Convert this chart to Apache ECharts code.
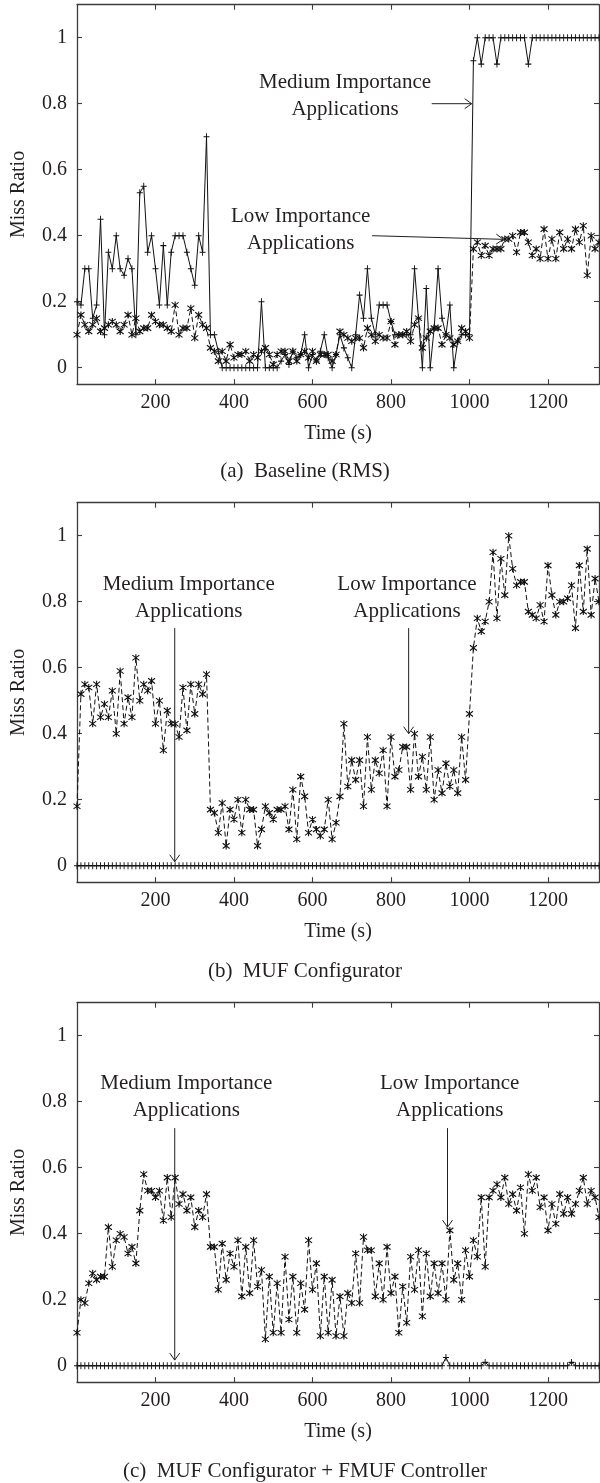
<!DOCTYPE html>
<html><head><meta charset="utf-8">
<script src="https://cdn.jsdelivr.net/npm/echarts@6/dist/echarts.min.js"></script>
<style>html,body{margin:0;padding:0;background:#fff}#c{width:600px;height:1483px}</style>
</head><body><div id="c"></div>
<script>
// ---------- data ----------
const TIME = [0,10,20,30,40,50,60,70,80,90,100,110,120,130,140,150,160,170,180,190,200,210,220,230,240,250,260,270,280,290,300,310,320,330,340,350,360,370,380,390,400,410,420,430,440,450,460,470,480,490,500,510,520,530,540,550,560,570,580,590,600,610,620,630,640,650,660,670,680,690,700,710,720,730,740,750,760,770,780,790,800,810,820,830,840,850,860,870,880,890,900,910,920,930,940,950,960,970,980,990,1000,1010,1020,1030,1040,1050,1060,1070,1080,1090,1100,1110,1120,1130,1140,1150,1160,1170,1180,1190,1200,1210,1220,1230,1240,1250,1260,1270,1280,1290,1300,1310,1320,1330];

// (a) Baseline (RMS)
const A_MEDIUM = [
0.2,0.19,0.3,0.3,0.15,0.19,0.45,0.1,0.35,0.3,
0.4,0.3,0.28,0.33,0.3,0.1,0.53,0.55,0.35,0.4,
0.3,0.19,0.37,0.19,0.35,0.4,0.4,0.4,0.35,0.3,
0.25,0.4,0.35,0.7,0.1,0.1,0.05,0,0,0,
0,0,0,0,0,0,0,0.2,0,0,
0,0,0.02,0.04,0.01,0.05,0.03,0.04,0.1,0,
0.04,0.02,0.05,0.1,0.03,0,0.04,0.1,0.06,0.03,
0,0.1,0.22,0.15,0.3,0.15,0.1,0.19,0.19,0.19,
0.14,0.1,0.1,0.1,0.1,0.1,0.3,0.15,0,0.24,
0,0.12,0.3,0.15,0.1,0.19,0,0.08,0.1,0.1,
0.1,0.93,1,0.92,1,1,1,0.92,1,1,
1,1,1,1,1,0.92,1,1,1,1,
1,1,1,1,1,1,1,1,1,1,
1,1,1,1];
const A_LOW = [
0.1,0.16,0.13,0.11,0.13,0.15,0.11,0.12,0.13,0.14,
0.13,0.11,0.13,0.16,0.1,0.15,0.11,0.12,0.12,0.16,
0.14,0.13,0.13,0.12,0.11,0.19,0.1,0.12,0.12,0.18,
0.09,0.16,0.13,0.12,0.06,0.05,0.02,0.05,0.02,0.07,
0.03,0.04,0.04,0.05,0.02,0.04,0.03,0.05,0.06,0.04,
0.01,0.04,0.05,0.05,0.02,0.05,0.02,0.04,0.05,0.03,
0.05,0.02,0.04,0.04,0.04,0.02,0.04,0.11,0.1,0.09,
0.08,0.09,0.09,0.06,0.12,0.1,0.08,0.1,0.09,0.09,
0.14,0.07,0.1,0.1,0.11,0.08,0.13,0.15,0.06,0.09,
0.11,0.12,0.12,0.07,0.1,0.09,0.07,0.08,0.12,0.11,
0.09,0.36,0.38,0.34,0.37,0.34,0.36,0.36,0.36,0.39,
0.39,0.4,0.35,0.41,0.41,0.38,0.34,0.36,0.33,0.42,
0.33,0.39,0.33,0.41,0.36,0.39,0.36,0.42,0.38,0.43,
0.28,0.4,0.36,0.38];

// (b) MUF Configurator
const B_MEDIUM = [
0,0,0,0,0,0,0,0,0,0, 0,0,0,0,0,0,0,0,0,0, 0,0,0,0,0,0,0,0,0,0,
0,0,0,0,0,0,0,0,0,0, 0,0,0,0,0,0,0,0,0,0, 0,0,0,0,0,0,0,0,0,0,
0,0,0,0,0,0,0,0,0,0, 0,0,0,0,0,0,0,0,0,0, 0,0,0,0,0,0,0,0,0,0,
0,0,0,0,0,0,0,0,0,0, 0,0,0,0,0,0,0,0,0,0, 0,0,0,0,0,0,0,0,0,0,
0,0,0,0,0,0,0,0,0,0, 0,0,0,0];
const B_LOW = [
0.18,0.52,0.55,0.54,0.43,0.55,0.45,0.49,0.45,0.53,
0.4,0.59,0.43,0.51,0.45,0.63,0.5,0.55,0.53,0.56,
0.43,0.5,0.35,0.47,0.43,0.43,0.39,0.54,0.41,0.55,
0.46,0.55,0.52,0.58,0.17,0.16,0.1,0.19,0.06,0.17,
0.14,0.2,0.1,0.2,0.17,0.17,0.06,0.11,0.18,0.16,
0.14,0.17,0.17,0.18,0.11,0.23,0.08,0.27,0.21,0.1,
0.14,0.11,0.09,0.11,0.2,0.08,0.13,0.21,0.43,0.24,
0.32,0.26,0.32,0.18,0.39,0.23,0.32,0.28,0.35,0.18,
0.39,0.27,0.29,0.36,0.36,0.23,0.4,0.27,0.33,0.23,
0.39,0.2,0.29,0.22,0.31,0.24,0.29,0.22,0.39,0.26,
0.46,0.66,0.75,0.71,0.74,0.8,0.95,0.75,0.93,0.82,
1.0,0.9,0.85,0.86,0.86,0.77,0.76,0.75,0.79,0.74,
0.91,0.82,0.76,0.8,0.8,0.81,0.85,0.72,0.91,0.77,
0.96,0.76,0.87,0.8];

// (c) MUF Configurator + FMUF Controller
const C_MEDIUM = [
0,0,0,0,0,0,0,0,0,0, 0,0,0,0,0,0,0,0,0,0, 0,0,0,0,0,0,0,0,0,0,
0,0,0,0,0,0,0,0,0,0, 0,0,0,0,0,0,0,0,0,0, 0,0,0,0,0,0,0,0,0,0,
0,0,0,0,0,0,0,0,0,0, 0,0,0,0,0,0,0,0,0,0, 0,0,0,0,0,0,0,0,0,0,
0,0,0,0,0.025,0,0,0,0,0, 0,0,0,0,0.01,0,0,0,0,0, 0,0,0,0,0,0,0,0,0,0,
0,0,0,0,0,0,0.01,0,0,0, 0,0,0,0];
const C_LOW = [
0.1,0.2,0.19,0.25,0.28,0.26,0.27,0.27,0.42,0.3,
0.38,0.4,0.39,0.34,0.36,0.31,0.47,0.58,0.53,0.53,
0.51,0.53,0.44,0.57,0.45,0.57,0.49,0.52,0.47,0.51,
0.42,0.47,0.45,0.52,0.36,0.36,0.23,0.37,0.26,0.34,
0.3,0.38,0.21,0.36,0.22,0.38,0.24,0.29,0.08,0.27,
0.1,0.25,0.1,0.33,0.14,0.27,0.1,0.25,0.17,0.38,
0.23,0.31,0.09,0.27,0.1,0.26,0.09,0.21,0.09,0.22,
0.19,0.34,0.19,0.39,0.35,0.35,0.21,0.31,0.2,0.36,
0.22,0.27,0.1,0.24,0.13,0.33,0.23,0.35,0.15,0.34,
0.21,0.31,0.22,0.31,0.2,0.41,0.26,0.31,0.2,0.35,
0.27,0.38,0.33,0.51,0.3,0.51,0.53,0.55,0.51,0.57,
0.49,0.52,0.47,0.54,0.4,0.58,0.53,0.57,0.48,0.51,
0.41,0.49,0.43,0.52,0.46,0.51,0.46,0.49,0.53,0.57,
0.49,0.53,0.51,0.45];

const X_TICKS = [200,400,600,800,1000,1200];
const Y_TICKS = [0,0.2,0.4,0.6,0.8,1];
const CAPTIONS = ['(a)  Baseline (RMS)', '(b)  MUF Configurator', '(c)  MUF Configurator + FMUF Controller'];
const MEDIUM_TEXT = 'Medium Importance\nApplications';
const LOW_TEXT = 'Low Importance\nApplications';
// annotations (data coords): text centre, arrow start, arrow tip
const ANNOTATIONS = [
  {panel:0, text:MEDIUM_TEXT, at:[683,0.8225], from:[903.7,0.8], to:[1005.6,0.8]},
  {panel:0, text:LOW_TEXT, at:[570,0.418], from:[752,0.40], to:[1086,0.389]},
  {panel:1, text:MEDIUM_TEXT, at:[284.6,0.812], from:[249,0.72], to:[249,0.012]},
  {panel:1, text:LOW_TEXT, at:[840.8,0.812], from:[845,0.72], to:[845,0.4]},
  {panel:2, text:MEDIUM_TEXT, at:[278.5,0.814], from:[249,0.72], to:[249,0.017]},
  {panel:2, text:LOW_TEXT, at:[949.6,0.814], from:[944,0.72], to:[944,0.42]}
];

// ---------- layout / style ----------
const FONT = "'Liberation Serif', 'Times New Roman', serif";
const TXT = '#231f20';
const AX = '#3c3c3c';
const GRID_TOPS = [4.7, 502.7, 1002.7];
const GRID_H = 379.5;
const CAPTION_Y = [471, 971, 1471];

const PANELS = [[A_MEDIUM, A_LOW],[B_MEDIUM, B_LOW],[C_MEDIUM, C_LOW]];
const pair = vals => TIME.map((t,i) => [t, vals[i]]);

const grid = [], xAxis = [], yAxis = [], series = [];
GRID_TOPS.forEach((top, i) => {
  grid.push({left:77, width:522, top:top, height:GRID_H, containLabel:false});
  const axLine = {show:true, onZero:false, lineStyle:{color:AX, width:1.3}};
  const tick = {show:true, inside:true, length:5, lineStyle:{color:AX, width:1.1}};
  xAxis.push({gridIndex:i, type:'value', min:0, max:1330, position:'bottom',
    axisLine:axLine, axisTick:Object.assign({customValues:X_TICKS}, tick),
    axisLabel:{customValues:X_TICKS, margin:9, fontFamily:FONT, fontSize:20, color:TXT,
      formatter: v => String(Math.round(v))},
    splitLine:{show:false},
    name:'Time (s)', nameLocation:'middle', nameGap:40,
    nameTextStyle:{fontFamily:FONT, fontSize:20, color:TXT}});
  xAxis.push({gridIndex:i, type:'value', min:0, max:1330, position:'top',
    axisLine:axLine, axisTick:Object.assign({customValues:X_TICKS}, tick),
    axisLabel:{show:false}, splitLine:{show:false}});
  yAxis.push({gridIndex:i, type:'value', min:-0.05, max:1.1, position:'left',
    axisLine:axLine, axisTick:Object.assign({customValues:Y_TICKS}, tick),
    axisLabel:{customValues:Y_TICKS, margin:10, fontFamily:FONT, fontSize:20, color:TXT,
      formatter: v => String(Math.round(v*10)/10)},
    splitLine:{show:false},
    name:'Miss Ratio', nameLocation:'middle', nameGap:48, nameRotate:90,
    nameTextStyle:{fontFamily:FONT, fontSize:20, color:TXT}});
  yAxis.push({gridIndex:i, type:'value', min:-0.05, max:1.1, position:'right',
    axisLine:axLine, axisTick:Object.assign({customValues:Y_TICKS}, tick),
    axisLabel:{show:false}, splitLine:{show:false}});

  const [med, low] = PANELS[i];
  series.push({type:'line', xAxisIndex:2*i, yAxisIndex:2*i, data:pair(med),
    symbol:'path://M0,-1L0,1M-0.8,0L0.8,0', symbolSize:[6,7], showAllSymbol:true,
    lineStyle:{color:'#111', width:1}, itemStyle:{color:'rgba(0,0,0,0)', borderColor:'#111', borderWidth:1},
    emphasis:{disabled:true}, z:2});
  series.push({type:'line', xAxisIndex:2*i, yAxisIndex:2*i, data:pair(low),
    symbol:'path://M-1,-0.75L1,0.75M-1,0.75L1,-0.75M0,-1L0,1', symbolSize:[7,7], showAllSymbol:true,
    lineStyle:{color:'#111', width:1, type:[5,3]}, itemStyle:{color:'rgba(0,0,0,0)', borderColor:'#111', borderWidth:1.1},
    emphasis:{disabled:true}, z:3});
});

const chart = echarts.init(document.getElementById('c'), null, {renderer:'canvas'});
chart.setOption({animation:false, backgroundColor:'#fff', grid, xAxis, yAxis, series});

// annotations and captions
const graphic = [];
ANNOTATIONS.forEach(a => {
  const f = {xAxisIndex:2*a.panel, yAxisIndex:2*a.panel};
  const p = chart.convertToPixel(f, a.at);
  const s = chart.convertToPixel(f, a.from);
  const e = chart.convertToPixel(f, a.to);
  graphic.push({type:'text', z:10, style:{text:a.text, x:p[0], y:p[1], align:'center', verticalAlign:'middle',
    font:'21px ' + FONT, lineHeight:27, fill:TXT}});
  graphic.push({type:'line', z:10, shape:{x1:s[0], y1:s[1], x2:e[0], y2:e[1]}, style:{stroke:TXT, lineWidth:1}});
  const dx = e[0]-s[0], dy = e[1]-s[1], L = Math.hypot(dx,dy), ux = dx/L, uy = dy/L;
  const hl = 7, hw = 5;
  graphic.push({type:'polyline', z:10, shape:{points:[
      [e[0]-ux*hl - uy*hw, e[1]-uy*hl + ux*hw], [e[0], e[1]], [e[0]-ux*hl + uy*hw, e[1]-uy*hl - ux*hw]]},
    style:{stroke:TXT, lineWidth:1, fill:null}});
});
CAPTIONS.forEach((c, i) => {
  graphic.push({type:'text', style:{text:c, x:305, y:CAPTION_Y[i], align:'center', verticalAlign:'middle',
    font:'21px ' + FONT, fill:TXT}});
});
chart.setOption({graphic});
</script>
</body></html>
